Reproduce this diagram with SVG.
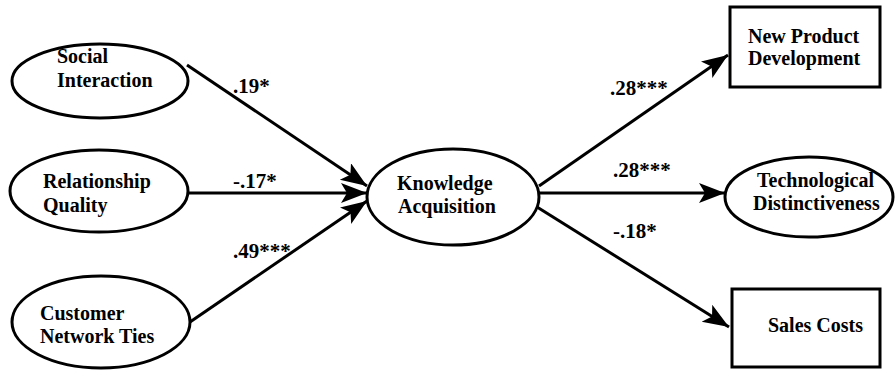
<svg xmlns="http://www.w3.org/2000/svg" width="896" height="373" viewBox="0 0 896 373">
<style>
.shape{fill:#fff;stroke:#000;stroke-width:3}
.t{font-family:"Liberation Serif","Times New Roman",serif;font-weight:bold;font-size:20px;fill:#000}
.l{font-family:"Liberation Serif","Times New Roman",serif;font-weight:bold;font-size:21px;fill:#000}
.c{stroke:#000;stroke-width:3;fill:none;marker-end:url(#ah)}
</style>
<defs>
<marker id="ah" markerUnits="userSpaceOnUse" markerWidth="28" markerHeight="22" refX="26" refY="10" orient="auto">
<path d="M0,0 L26,10 L0,20 L6,10 Z" fill="#000"/>
</marker>
</defs>
<rect width="896" height="373" fill="#fff"/>
<g id="connectors">
<line class="c" x1="187" y1="65" x2="367" y2="186"/>
<line class="c" x1="188" y1="193" x2="367" y2="193"/>
<line class="c" x1="190" y1="322" x2="367" y2="201"/>
<line class="c" x1="539" y1="186" x2="728" y2="55"/>
<line class="c" x1="539" y1="193" x2="725" y2="193"/>
<line class="c" x1="537" y1="207" x2="729" y2="327"/>
<text class="l" x="233" y="93">.19*</text>
<text class="l" x="233" y="188">-.17*</text>
<text class="l" x="233" y="258">.49***</text>
<text class="l" x="610" y="95">.28***</text>
<text class="l" x="613" y="177">.28***</text>
<text class="l" x="613" y="238">-.18*</text>
</g>
<g id="social">
<ellipse class="shape" cx="100" cy="81" rx="88" ry="37"/>
<text class="t" x="57" y="63">Social</text>
<text class="t" x="57" y="87">Interaction</text>
</g>
<g id="relationship">
<ellipse class="shape" cx="99" cy="191" rx="89" ry="41"/>
<text class="t" x="43" y="188">Relationship</text>
<text class="t" x="43" y="212">Quality</text>
</g>
<g id="customer">
<ellipse class="shape" cx="101" cy="322" rx="89" ry="46"/>
<text class="t" x="40" y="320">Customer</text>
<text class="t" x="40" y="343">Network Ties</text>
</g>
<g id="knowledge">
<ellipse class="shape" cx="453" cy="197" rx="86" ry="48"/>
<text class="t" x="397" y="190">Knowledge</text>
<text class="t" x="398" y="213">Acquisition</text>
</g>
<g id="npd">
<rect class="shape" x="730" y="7" width="150" height="80"/>
<text class="t" x="748" y="43">New Product</text>
<text class="t" x="748" y="65">Development</text>
</g>
<g id="tech">
<ellipse class="shape" cx="809" cy="197" rx="84" ry="40"/>
<text class="t" x="757" y="187">Technological</text>
<text class="t" x="753" y="210">Distinctiveness</text>
</g>
<g id="sales">
<rect class="shape" x="732" y="289" width="148" height="78"/>
<text class="t" x="768" y="332">Sales Costs</text>
</g>
</svg>
